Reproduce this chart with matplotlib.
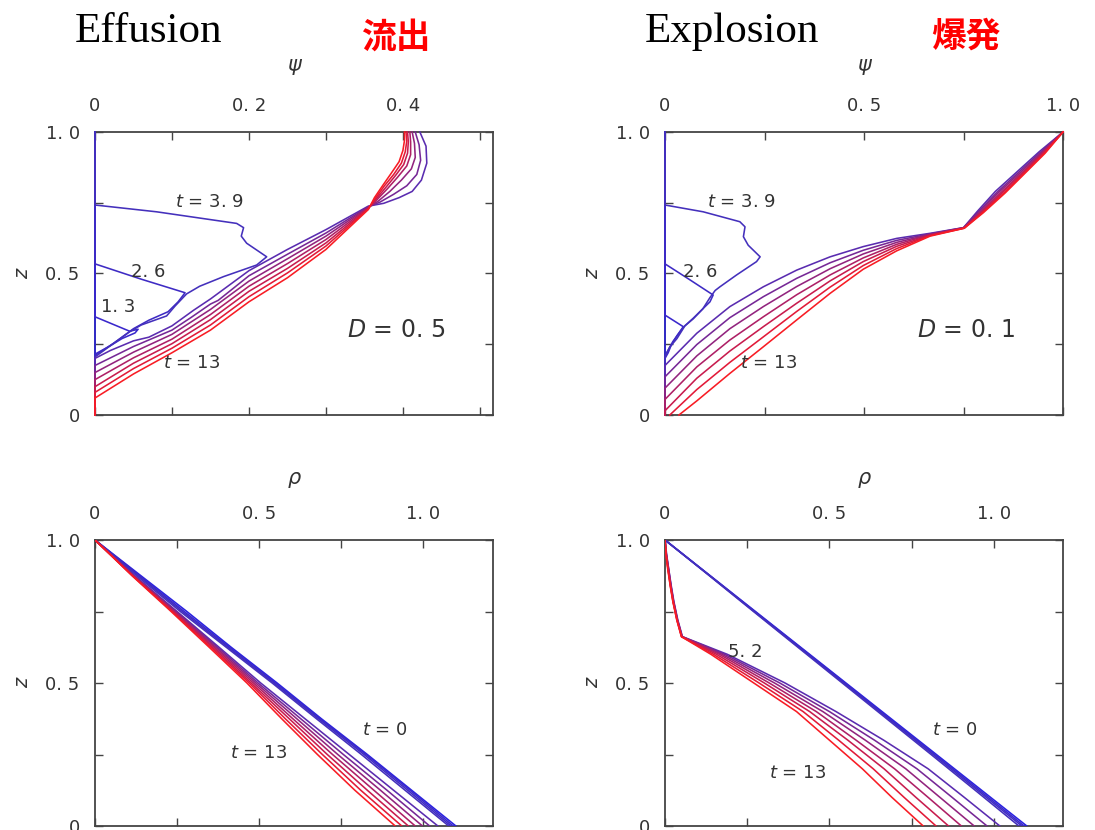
import matplotlib
matplotlib.use("Agg")
import matplotlib.pyplot as plt

# ---------------- data ----------------
TIMES = ["0", "1.3", "2.6", "3.9", "5.2", "6.5", "7.8", "9.1", "10.4", "11.7", "13"]
COLORS = ['#2a22e0', '#3a28cc', '#3e2bc4', '#4430bc', '#5a2cb0', '#762896',
          '#92247e', '#ae2066', '#c81c4e', '#e21a38', '#f81c24']

# Effusion, psi(z)  (D = 0.5)
EFF_PSI = {
    "0":   [0.0, 0.0],
    "1.3": [0, 0, 0.045, 0.056, 0.052, 0.035, 0.02, 0, 0],
    "2.6": [0, 0, 0.06, 0.117, 0.108, 0.095, 0.07, 0.05, 0.025, 0, 0],
    "3.9": [0, 0, 0.08, 0.184, 0.193, 0.19, 0.197, 0.223, 0.21, 0.167, 0.136, 0.119,
            0.104, 0.093, 0.06, 0.045, 0.024, 0, 0],
    "5.2": [0.422, 0.430, 0.431, 0.424, 0.412, 0.395, 0.375, 0.355, 0.30, 0.25, 0.20, 0.165,
            0.15, 0.128, 0.10, 0.07, 0.05, 0.02, 0, 0],
    "6.5": [0.416, 0.421, 0.423, 0.418, 0.405, 0.388, 0.370, 0.355, 0.30, 0.25, 0.20, 0.16,
            0.15, 0.125, 0.10, 0.05, 0, 0],
    "7.8": [0.412, 0.415, 0.416, 0.411, 0.398, 0.383, 0.368, 0.355, 0.30, 0.25, 0.20,
            0.15, 0.10, 0.05, 0, 0],
    "9.1": [0.409, 0.41, 0.41, 0.405, 0.393, 0.38, 0.366, 0.355, 0.30, 0.25, 0.20,
            0.15, 0.10, 0.05, 0, 0],
    "10.4": [0.406, 0.407, 0.406, 0.401, 0.39, 0.378, 0.365, 0.355, 0.30, 0.25, 0.20,
             0.15, 0.10, 0.05, 0, 0],
    "11.7": [0.404, 0.405, 0.403, 0.398, 0.388, 0.376, 0.364, 0.355, 0.30, 0.25, 0.20,
             0.15, 0.10, 0.05, 0, 0],
    "13":  [0.402, 0.402, 0.40, 0.395, 0.385, 0.374, 0.363, 0.355, 0.30, 0.25, 0.20,
            0.15, 0.10, 0.05, 0, 0],
}
EFF_Z = {
    "0":   [1.0, 0.0],
    "1.3": [1.0, 0.347, 0.296, 0.303, 0.29, 0.27, 0.245, 0.215, 0.0],
    "2.6": [1.0, 0.534, 0.48, 0.432, 0.40, 0.365, 0.335, 0.305, 0.255, 0.21, 0.0],
    "3.9": [1.0, 0.742, 0.718, 0.677, 0.662, 0.632, 0.607, 0.559, 0.53, 0.489, 0.455, 0.428,
            0.385, 0.35, 0.318, 0.294, 0.253, 0.205, 0.0],
    "5.2": [1.0, 0.95, 0.89, 0.83, 0.79, 0.768, 0.748, 0.738, 0.655, 0.585, 0.51, 0.44,
            0.41, 0.37, 0.315, 0.275, 0.262, 0.228, 0.20, 0.0],
    "6.5": [1.0, 0.955, 0.90, 0.85, 0.81, 0.78, 0.752, 0.736, 0.643, 0.568, 0.492, 0.405,
            0.392, 0.345, 0.30, 0.242, 0.175, 0.0],
    "7.8": [1.0, 0.96, 0.91, 0.87, 0.83, 0.79, 0.756, 0.734, 0.632, 0.552, 0.473,
            0.373, 0.285, 0.222, 0.15, 0.0],
    "9.1": [1.0, 0.965, 0.92, 0.88, 0.84, 0.80, 0.76, 0.732, 0.620, 0.535, 0.455,
            0.355, 0.268, 0.202, 0.125, 0.0],
    "10.4": [1.0, 0.965, 0.925, 0.885, 0.845, 0.805, 0.763, 0.730, 0.608, 0.518, 0.437,
             0.337, 0.252, 0.183, 0.10, 0.0],
    "11.7": [1.0, 0.968, 0.93, 0.89, 0.85, 0.81, 0.765, 0.728, 0.597, 0.502, 0.418,
             0.318, 0.236, 0.164, 0.08, 0.0],
    "13":  [1.0, 0.97, 0.935, 0.895, 0.855, 0.812, 0.768, 0.726, 0.585, 0.485, 0.40,
            0.30, 0.22, 0.145, 0.06, 0.0],
}

# Explosion, psi(z)  (D = 0.1)
EXP_PSI = {
    "0":   [0.0, 0.0],
    "1.3": [0, 0, 0.046, 0.03, 0.015, 0.008, 0, 0],
    "2.6": [0, 0, 0.06, 0.121, 0.113, 0.071, 0.046, 0.02, 0, 0],
    "3.9": [0, 0, 0.096, 0.188, 0.201, 0.197, 0.209, 0.239, 0.23, 0.18, 0.138, 0.126, 0.113,
            0.095, 0.071, 0.05, 0.03, 0.012, 0, 0],
    "5.2": [1.0, 0.94, 0.885, 0.83, 0.785, 0.75, 0.666, 0.582, 0.498, 0.415, 0.331, 0.247,
            0.163, 0.08, 0, 0],
    "6.5": [1.0, 0.943, 0.889, 0.835, 0.788, 0.75, 0.666, 0.582, 0.498, 0.415, 0.331, 0.247,
            0.163, 0.08, 0, 0],
    "7.8": [1.0, 0.946, 0.893, 0.839, 0.791, 0.75, 0.666, 0.582, 0.498, 0.415, 0.331, 0.247,
            0.163, 0.08, 0, 0],
    "9.1": [1.0, 0.948, 0.897, 0.844, 0.794, 0.751, 0.666, 0.582, 0.498, 0.415, 0.331, 0.247,
            0.163, 0.08, 0, 0],
    "10.4": [1.0, 0.951, 0.900, 0.848, 0.796, 0.751, 0.666, 0.582, 0.498, 0.415, 0.331, 0.247,
             0.163, 0.08, 0, 0],
    "11.7": [1.0, 0.953, 0.903, 0.852, 0.798, 0.752, 0.666, 0.582, 0.498, 0.415, 0.331, 0.247,
             0.163, 0.08, 0.012],
    "13":  [1.0, 0.955, 0.905, 0.855, 0.80, 0.752, 0.666, 0.582, 0.498, 0.415, 0.331, 0.247,
            0.163, 0.08, 0.035],
}
EXP_Z = {
    "0":   [1.0, 0.0],
    "1.3": [1.0, 0.353, 0.312, 0.28, 0.245, 0.22, 0.2, 0.0],
    "2.6": [1.0, 0.534, 0.48, 0.424, 0.40, 0.342, 0.31, 0.26, 0.21, 0.0],
    "3.9": [1.0, 0.742, 0.718, 0.683, 0.665, 0.63, 0.60, 0.559, 0.542, 0.495, 0.453, 0.44, 0.415,
            0.375, 0.34, 0.315, 0.27, 0.24, 0.205, 0.0],
    "5.2": [1.0, 0.93, 0.86, 0.79, 0.72, 0.662, 0.642, 0.624, 0.595, 0.559, 0.512, 0.453,
            0.383, 0.289, 0.175, 0.0],
    "6.5": [1.0, 0.928, 0.858, 0.788, 0.719, 0.662, 0.640, 0.617, 0.582, 0.538, 0.483, 0.418,
            0.344, 0.249, 0.135, 0.0],
    "7.8": [1.0, 0.927, 0.857, 0.787, 0.718, 0.661, 0.638, 0.610, 0.569, 0.517, 0.454, 0.383,
            0.305, 0.209, 0.095, 0.0],
    "9.1": [1.0, 0.926, 0.856, 0.786, 0.717, 0.661, 0.637, 0.603, 0.555, 0.495, 0.425, 0.347,
            0.265, 0.170, 0.055, 0.0],
    "10.4": [1.0, 0.926, 0.856, 0.786, 0.716, 0.661, 0.635, 0.596, 0.542, 0.474, 0.395, 0.312,
             0.226, 0.130, 0.015, 0.0],
    "11.7": [1.0, 0.925, 0.855, 0.785, 0.716, 0.660, 0.634, 0.588, 0.528, 0.452, 0.366, 0.276,
             0.186, 0.090, 0.0],
    "13":  [1.0, 0.925, 0.855, 0.785, 0.715, 0.660, 0.632, 0.580, 0.515, 0.430, 0.336, 0.241,
            0.147, 0.050, 0.0],
}

# Effusion, rho(z)
RHO_Z_GRID = [1.0, 0.875, 0.75, 0.625, 0.5, 0.375, 0.25, 0.125, 0.0]
EFF_RHO = {
    "0":    [0, 0.14, 0.28, 0.415, 0.555, 0.69, 0.83, 0.965, 1.10],
    "1.3":  [0, 0.136, 0.272, 0.41, 0.55, 0.686, 0.826, 0.96, 1.092],
    "2.6":  [0, 0.132, 0.266, 0.405, 0.545, 0.681, 0.82, 0.953, 1.085],
    "3.9":  [0, 0.127, 0.26, 0.40, 0.54, 0.675, 0.812, 0.945, 1.078],
    "5.2":  [0, 0.121, 0.25, 0.378, 0.505, 0.64, 0.775, 0.91, 1.045],
    "6.5":  [0, 0.119, 0.247, 0.373, 0.497, 0.627, 0.757, 0.89, 1.02],
    "7.8":  [0, 0.117, 0.244, 0.368, 0.49, 0.615, 0.74, 0.87, 0.998],
    "9.1":  [0, 0.116, 0.241, 0.363, 0.483, 0.603, 0.724, 0.85, 0.976],
    "10.4": [0, 0.115, 0.238, 0.358, 0.476, 0.592, 0.708, 0.83, 0.955],
    "11.7": [0, 0.114, 0.235, 0.353, 0.47, 0.58, 0.693, 0.81, 0.935],
    "13":   [0, 0.113, 0.232, 0.348, 0.463, 0.569, 0.678, 0.792, 0.915],
}

# Explosion, rho(z)
EXP_RHO_EARLY = {
    "0":   [0, 0.1375, 0.275, 0.4125, 0.55, 0.6875, 0.825, 0.9625, 1.10],
    "1.3": [0, 0.137, 0.273, 0.41, 0.547, 0.683, 0.82, 0.956, 1.092],
    "2.6": [0, 0.136, 0.271, 0.407, 0.543, 0.679, 0.815, 0.95, 1.085],
    "3.9": [0, 0.135, 0.269, 0.404, 0.539, 0.674, 0.809, 0.943, 1.076],
}
EXP_Z_LATE = [1.0, 0.95, 0.9, 0.84, 0.785, 0.72, 0.662, 0.6, 0.5, 0.4, 0.3, 0.2, 0.1, 0.0]
EXP_RHO_LATE = {
    "5.2":  [0, 0.005, 0.011, 0.019, 0.027, 0.039, 0.053, 0.19, 0.365, 0.52, 0.665, 0.80, 0.91, 1.018],
    "6.5":  [0, 0.004, 0.011, 0.018, 0.026, 0.038, 0.052, 0.182, 0.349, 0.50, 0.637, 0.766, 0.873, 0.979],
    "7.8":  [0, 0.004, 0.010, 0.018, 0.026, 0.038, 0.052, 0.174, 0.333, 0.48, 0.609, 0.732, 0.836, 0.940],
    "9.1":  [0, 0.004, 0.010, 0.017, 0.025, 0.037, 0.051, 0.166, 0.317, 0.46, 0.581, 0.698, 0.800, 0.901],
    "10.4": [0, 0.003, 0.009, 0.017, 0.025, 0.037, 0.051, 0.157, 0.302, 0.44, 0.556, 0.666, 0.763, 0.862],
    "11.7": [0, 0.003, 0.009, 0.016, 0.024, 0.036, 0.050, 0.148, 0.286, 0.42, 0.528, 0.633, 0.727, 0.824],
    "13":   [0, 0.003, 0.008, 0.016, 0.024, 0.036, 0.050, 0.14, 0.27, 0.40, 0.50, 0.60, 0.69, 0.785],
}

# ---------------- figure ----------------
CJK = ['Noto Sans CJK JP', 'DejaVu Sans']
plt.rcParams['font.family'] = ['DejaVu Sans']
plt.rcParams['mathtext.fontset'] = 'dejavusans'
TXT = '#333333'
LW = 1.15

fig = plt.figure(figsize=(10.95, 8.3), dpi=100)
W, H = 1095.0, 830.0


def make_ax(left_px, top_px, w_px, h_px):
    return fig.add_axes([left_px / W, 1 - (top_px + h_px) / H, w_px / W, h_px / H])


def style(ax, xmax, xmaj, xlabels, xmin_ticks, xlabel, lab_y):
    ax.set_xlim(0, xmax)
    ax.set_ylim(0, 1)
    ax.xaxis.tick_top()
    ax.set_xticks(xmaj)
    ax.set_xticklabels(xlabels)
    ax.set_xticks(xmin_ticks, minor=True)
    ax.set_yticks([0, 0.25, 0.5, 0.75, 1.0])
    ax.set_yticklabels(['0', '', '0. 5', '', '1. 0'])
    ax.tick_params(which='both', direction='in', length=6, width=1.0, color='#444444',
                   top=True, bottom=True, left=True, right=True,
                   labeltop=True, labelbottom=False, labelleft=True, labelright=False,
                   labelsize=13, labelcolor=TXT)
    ax.tick_params(axis='x', which='both', pad=12)
    ax.tick_params(axis='y', which='both', pad=11)
    for s in ax.spines.values():
        s.set_color('#444444')
        s.set_linewidth(1.3)
    ax.text(0.5, lab_y, xlabel, transform=ax.transAxes, ha='center', va='center',
            fontsize=15, style='italic', color=TXT)
    ax.text(-0.183, 0.5, 'z', transform=ax.transAxes, ha='center', va='center',
            fontsize=14, style='italic', color=TXT, rotation=90)


def tlabel(ax, x, y, s, size=13):
    ax.text(x, y, s, ha='center', va='center', fontsize=size, color=TXT, zorder=5)


# top-left: effusion psi
ax1 = make_ax(95, 132, 398, 283)
for t, c in zip(TIMES, COLORS):
    ax1.plot(EFF_PSI[t], EFF_Z[t], color=c, lw=LW, zorder=3, clip_on=False)
style(ax1, 0.517, [0, 0.2, 0.4], ['0', '0. 2', '0. 4'], [0.1, 0.3, 0.5], 'ψ', 1.237)
tlabel(ax1, 0.148, 0.753, r'$t$ = 3. 9')
tlabel(ax1, 0.069, 0.505, '2. 6')
tlabel(ax1, 0.030, 0.382, '1. 3')
tlabel(ax1, 0.126, 0.184, r'$t$ = 13')
tlabel(ax1, 0.391, 0.30, r'$D$ = 0. 5', size=17)

# top-right: explosion psi
ax2 = make_ax(665, 132, 398, 283)
for t, c in zip(TIMES, COLORS):
    ax2.plot(EXP_PSI[t], EXP_Z[t], color=c, lw=LW, zorder=3, clip_on=False)
style(ax2, 1.0, [0, 0.5, 1.0], ['0', '0. 5', '1. 0'], [0.25, 0.75], 'ψ', 1.237)
tlabel(ax2, 0.193, 0.753, r'$t$ = 3. 9')
tlabel(ax2, 0.088, 0.505, '2. 6')
tlabel(ax2, 0.259, 0.184, r'$t$ = 13')
tlabel(ax2, 0.756, 0.30, r'$D$ = 0. 1', size=17)

# bottom-left: effusion rho
ax3 = make_ax(95, 540, 398, 286)
for t, c in zip(TIMES, COLORS):
    ax3.plot(EFF_RHO[t], RHO_Z_GRID, color=c, lw=LW, zorder=3)
style(ax3, 1.213, [0, 0.5, 1.0], ['0', '0. 5', '1. 0'], [0.25, 0.75], 'ρ', 1.217)
tlabel(ax3, 0.884, 0.336, r'$t$ = 0')
tlabel(ax3, 0.497, 0.255, r'$t$ = 13')

# bottom-right: explosion rho
ax4 = make_ax(665, 540, 398, 286)
for t, c in zip(TIMES, COLORS):
    if t in EXP_RHO_EARLY:
        ax4.plot(EXP_RHO_EARLY[t], RHO_Z_GRID, color=c, lw=LW, zorder=3)
    else:
        ax4.plot(EXP_RHO_LATE[t], EXP_Z_LATE, color=c, lw=LW, zorder=3)
style(ax4, 1.21, [0, 0.5, 1.0], ['0', '0. 5', '1. 0'], [0.25, 0.75], 'ρ', 1.217)
tlabel(ax4, 0.243, 0.608, '5. 2')
tlabel(ax4, 0.881, 0.336, r'$t$ = 0')
tlabel(ax4, 0.404, 0.185, r'$t$ = 13')

# titles
fig.text(75 / W, 1 - 42 / H, 'Effusion', fontsize=31, family='Liberation Serif',
         ha='left', va='baseline', color='black')
fig.text(645 / W, 1 - 42 / H, 'Explosion', fontsize=31, family='Liberation Serif',
         ha='left', va='baseline', color='black')
fig.text(396 / W, 1 - 37 / H, '流出', fontsize=25, fontweight='bold', family=CJK,
         ha='center', va='center', color='#ff0000')
fig.text(966 / W, 1 - 36 / H, '爆発', fontsize=25, fontweight='bold', family=CJK,
         ha='center', va='center', color='#ff0000')

fig.savefig('out.png', dpi=100)
